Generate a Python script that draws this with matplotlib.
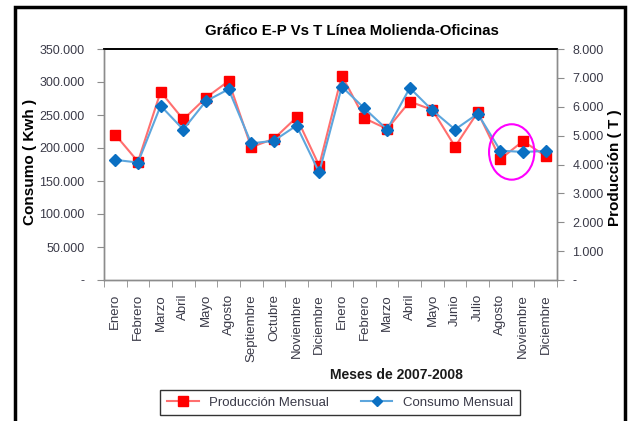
import matplotlib.pyplot as plt
from matplotlib.patches import Ellipse, Rectangle
from matplotlib.ticker import FuncFormatter, FixedLocator
from matplotlib.lines import Line2D

plt.rcParams['font.family'] = ['Liberation Sans', 'DejaVu Sans']

# --- data ---
meses = ['Enero', 'Febrero', 'Marzo', 'Abril', 'Mayo', 'Agosto', 'Septiembre',
         'Octubre', 'Noviembre', 'Diciembre',
         'Enero', 'Febrero', 'Marzo', 'Abril', 'Mayo', 'Junio', 'Julio',
         'Agosto', 'Noviembre', 'Diciembre']

# Consumo mensual (Kwh), left axis
consumo = [182000, 178000, 264000, 228000, 271000, 289000, 207000, 211000,
           234000, 163000, 293000, 260000, 228000, 291000, 257000, 228000,
           252000, 196000, 194000, 195500]

# Produccion mensual (T), right axis
produccion = [5030, 4100, 6520, 5560, 6310, 6890, 4600, 4890, 5630, 3960,
              7080, 5600, 5230, 6180, 5890, 4620, 5810, 4190, 4810, 4290]

RED = '#FF0000'
RED_LINE = '#FF6F6F'
BLUE = '#0A6FC2'
BLUE_LINE = '#5DA6DD'
GRAY = '#8C8C8C'
TXT = '#3a3a48'


def miles(v, pos=None):
    if v == 0:
        return '-'
    return f'{v:,.0f}'.replace(',', '.')


fig = plt.figure(figsize=(6.29, 4.21), dpi=100)
ax = fig.add_axes([104 / 629, 1 - 280 / 421, (557 - 104) / 629, (280 - 49) / 421])
ax2 = ax.twinx()

x = list(range(len(meses)))

ax2.plot(x, produccion, color=RED_LINE, lw=1.5, marker='s', ms=6.5,
         mfc=RED, mec=RED, zorder=2)
ax.plot(x, consumo, color=BLUE_LINE, lw=1.5, marker='D', ms=6.5,
        mfc=BLUE, mec=BLUE, zorder=3)

# keep the blue series above the red one
ax.set_zorder(ax2.get_zorder() + 1)
ax.patch.set_visible(False)

# highlight ellipse around the last months
ax.add_patch(Ellipse((17.5, 194000), 2.0, 84000, fill=False,
                     edgecolor='#FF00FF', lw=1.5, zorder=4))

ax.set_xlim(-0.5, len(meses) - 0.5)
ax.set_ylim(0, 350000)
ax2.set_ylim(0, 8000)

ax.set_yticks(range(0, 350001, 50000))
ax2.set_yticks(range(0, 8001, 1000))
ax.yaxis.set_major_formatter(FuncFormatter(miles))
ax2.yaxis.set_major_formatter(FuncFormatter(miles))

ax.set_xticks(x)
ax.set_xticklabels(meses, rotation=90, fontsize=9.5, color=TXT)
ax.xaxis.set_minor_locator(FixedLocator([i - 0.5 for i in range(len(meses) + 1)]))
ax.tick_params(axis='x', which='major', length=0, pad=10)
ax.tick_params(axis='x', which='minor', length=5, color=GRAY, direction='out')
ax.tick_params(axis='y', length=5, color=GRAY, labelsize=9, labelcolor=TXT, pad=9)
ax2.tick_params(axis='y', length=5, color=GRAY, labelsize=9, labelcolor=TXT, pad=6)

for a in (ax, ax2):
    for side in ('left', 'right', 'bottom'):
        a.spines[side].set_color(GRAY)
        a.spines[side].set_linewidth(1)
    a.spines['top'].set_color('black')
    a.spines['top'].set_linewidth(1.2)

# texts
fig.text(352 / 629, 1 - 31 / 421, 'Gráfico E-P Vs T Línea Molienda-Oficinas',
         ha='center', va='center', fontsize=10.8, fontweight='bold')
fig.text(30 / 629, 1 - 162 / 421, 'Consumo ( Kwh )', rotation=90,
         ha='center', va='center', fontsize=11, fontweight='bold')
fig.text(615 / 629, 1 - 168 / 421, 'Producción ( T )', rotation=90,
         ha='center', va='center', fontsize=11, fontweight='bold')
fig.text(396 / 629, 1 - 375 / 421, 'Meses de 2007-2008',
         ha='center', va='center', fontsize=10, fontweight='bold', color='#1a1a1a')

handles = [
    Line2D([], [], color=RED_LINE, lw=1.5, marker='s', ms=6.5, mfc=RED, mec=RED),
    Line2D([], [], color=BLUE_LINE, lw=1.5, marker='D', ms=5, mfc=BLUE, mec=BLUE),
]
leg = fig.legend(handles, ['Producción Mensual', 'Consumo Mensual'], ncol=2,
                 loc='center', bbox_to_anchor=(340 / 629, 1 - 402.5 / 421),
                 frameon=True, fancybox=False, edgecolor='black', fontsize=9.5,
                 handlelength=2.4, columnspacing=2.4, borderpad=0.5)
leg.get_frame().set_linewidth(1.0)
for t in leg.get_texts():
    t.set_color(TXT)

# outer black frame of the chart
fig.patches.append(Rectangle((15 / 629, -0.05), (625 - 15) / 629, 1 - 7 / 421 + 0.05,
                             transform=fig.transFigure, fill=False,
                             edgecolor='black', lw=2.5, clip_on=False))

fig.savefig('out.png', dpi=100)
